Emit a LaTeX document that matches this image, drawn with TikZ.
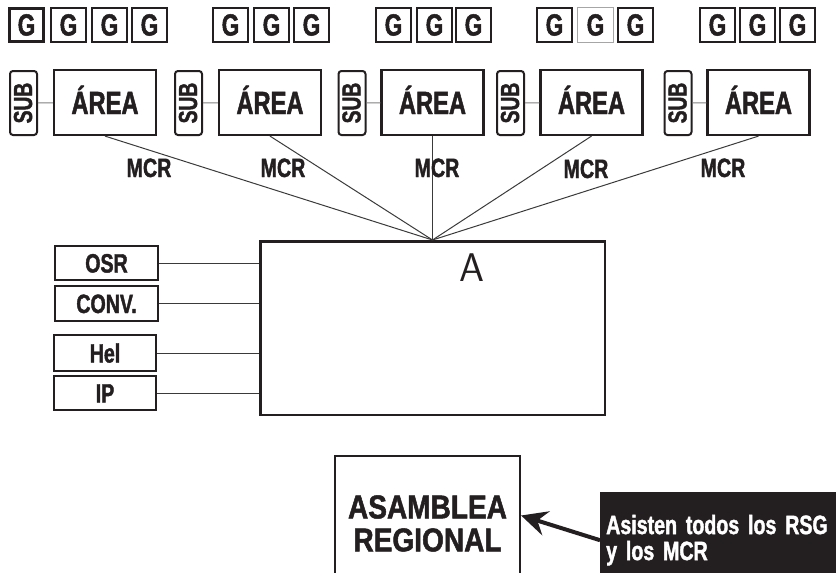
\documentclass[tikz,border=0pt]{standalone}
\usepackage{fontspec}
\usetikzlibrary{arrows.meta}
\newfontfamily\cond{Liberation Sans Bold}[FakeStretch=0.74,FakeBold=1.5]
\newfontfamily\condw{Liberation Sans Bold}[FakeStretch=0.85,FakeBold=1.5]
\definecolor{ink}{HTML}{231F20}
\definecolor{thinline}{HTML}{3A3A3A}
\begin{document}
\begin{tikzpicture}[x=1pt,y=-1pt,
  box/.style={draw=ink, line width=2.2pt, inner sep=0pt, text=ink},
  gbox/.style={box, line width=2pt, minimum width=35pt, minimum height=34pt,
    text height=21pt, text depth=0pt, font=\cond\fontsize{30.5}{30}\selectfont},
  subbox/.style={box, line width=2pt, rounded corners=3pt, rotate=90,
    minimum width=64pt, minimum height=27pt, text height=17pt, text depth=0pt,
    font=\cond\fontsize{26}{26}\selectfont},
  areabox/.style={box, minimum width=102pt, minimum height=65pt,
    text height=23pt, text depth=0pt, font=\cond\fontsize{32}{32}\selectfont},
  sidebox/.style={box, minimum width=103pt,
    text height=19pt, text depth=0pt, font=\cond\fontsize{26.5}{26}\selectfont},
  mcr/.style={anchor=base, text=ink, inner sep=0pt, font=\cond\fontsize{26.5}{26.5}\selectfont},
  link/.style={draw=thinline, line width=1pt},
]
\useasboundingbox (0,0) rectangle (836,573);
\clip (0,0) rectangle (836,573);

% G boxes
\node[gbox, line width=3pt, minimum width=34pt, minimum height=33pt] (g11) at (26.5,25) {G};
\node[gbox] (g12) at (68.5,25) {G};
\node[gbox] (g13) at (109.5,25) {G};
\node[gbox] (g14) at (149.5,25) {G};
\node[gbox] (g21) at (230.5,25) {G};
\node[gbox] (g22) at (271.5,25) {G};
\node[gbox] (g23) at (311.5,25) {G};
\node[gbox] (g31) at (393.5,25) {G};
\node[gbox] (g32) at (434.5,25) {G};
\node[gbox] (g33) at (473.5,25) {G};
\node[gbox] (g41) at (554.5,25) {G};
\node[gbox, draw=gray!70, line width=0.9pt, minimum width=36pt, minimum height=35pt] (g42) at (595.5,25) {G};
\node[gbox] (g43) at (635.5,25) {G};
\node[gbox] (g51) at (717.5,25) {G};
\node[gbox] (g52) at (757.5,25) {G};
\node[gbox] (g53) at (797.5,25) {G};

% SUB and AREA
\node[subbox] (s1) at (23.5,103) {SUB};
\node[subbox] (s2) at (188.5,103) {SUB};
\node[subbox] (s3) at (352,103) {SUB};
\node[subbox] (s4) at (510.5,103) {SUB};
\node[subbox] (s5) at (678,103) {SUB};
\node[areabox] (a1) at (105,102.5) {ÁREA};
\node[areabox] (a2) at (270,102.5) {ÁREA};
\node[areabox] (a3) at (432.5,102.5) {ÁREA};
\node[areabox] (a4) at (591.5,102.5) {ÁREA};
\node[areabox] (a5) at (758.5,102.5) {ÁREA};
\foreach \i in {1,...,5} \draw[link, draw=gray] (s\i) -- (a\i);

% central box
\node[box, line width=2.5pt, minimum width=344.5pt, minimum height=173.5pt] (A) at (432.5,328) {};
\node[anchor=base, text=ink, inner sep=0pt, font=\sffamily\fontsize{40}{40}\selectfont] (Alabel) at (471.5,281) {A};

% MCR lines and labels
\foreach \i in {1,...,5} \draw[link] (a\i.south) -- (A.north);
\node[mcr] (m1) at (149,177) {MCR};
\node[mcr] (m2) at (283,177) {MCR};
\node[mcr] (m3) at (437,177) {MCR};
\node[mcr] (m4) at (586,178) {MCR};
\node[mcr] (m5) at (723,177) {MCR};

% side boxes
\node[sidebox, minimum height=34pt] (osr) at (106.5,263) {OSR};
\node[sidebox, minimum height=35pt] (conv) at (106.5,303.5) {CONV.};
\node[sidebox, minimum width=102pt, minimum height=36pt] (hel) at (105,353) {Hel};
\node[sidebox, minimum width=102pt, minimum height=34pt] (ip) at (105,393) {IP};
\foreach \n in {osr,conv,hel,ip} \draw[link] (\n.east) -- (\n.east -| A.west);

% Asamblea
\node[box, minimum width=185pt, minimum height=135pt, align=center,
  font=\condw\fontsize{33}{33}\selectfont] (asm) at (427.5,523.5) {ASAMBLEA\\REGIONAL};
\node[fill=ink, text=white, anchor=north west, minimum width=240pt, minimum height=96pt,
  inner xsep=6pt, inner ysep=0pt, text width=228pt, align=left,
  font=\cond\fontsize{26.5}{26}\selectfont] (note) at (600,492) {Asisten todos los RSG\\y los MCR};
\draw[ink, line width=4pt, -{Stealth[length=26pt,width=25pt,inset=9pt]}] (note.west) -- ([yshift=8pt]asm.east);
\end{tikzpicture}
\end{document}
